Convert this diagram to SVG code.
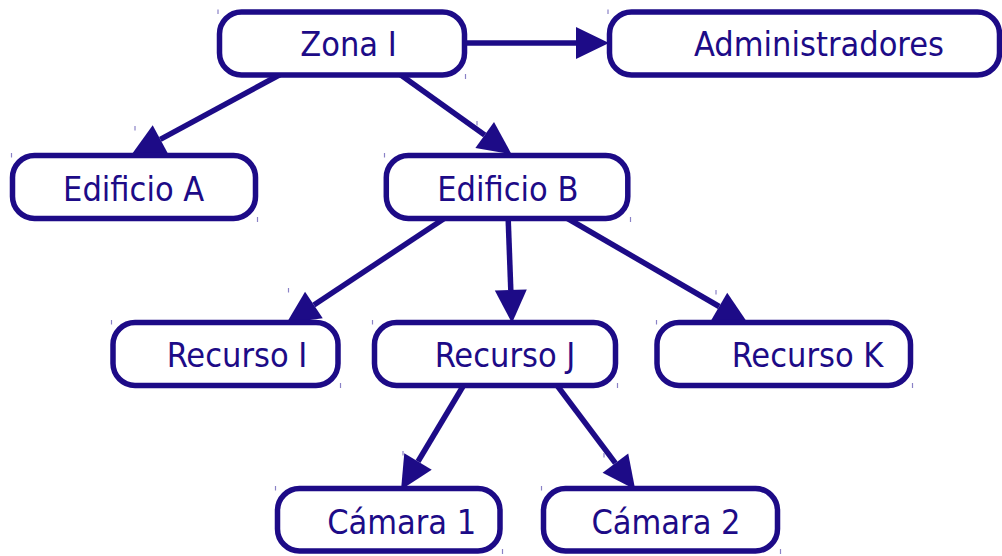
<svg xmlns="http://www.w3.org/2000/svg" width="1002" height="556" viewBox="0 0 1002 556">
  <style>
    .box { fill: #ffffff; stroke: #1d0b87; stroke-width: 5.5; }
    .lbl { font-family: "DejaVu Sans Condensed", "DejaVu Sans", sans-serif; font-stretch: condensed; font-size: 34px; fill: #1d0b87; text-anchor: middle; }
    .edge { stroke: #1d0b87; stroke-width: 5.5; fill: none; marker-end: url(#arrow); }
    .tick { stroke: #8a82c6; stroke-width: 1.2; }
  </style>
  <defs>
    <!-- filled triangle head; the line ends at its base -->
    <marker id="arrow" markerUnits="userSpaceOnUse" markerWidth="34" markerHeight="32" refX="0" refY="16" orient="auto" overflow="visible">
      <path d="M0,0 L33,16 L0,32 z" fill="#1d0b87"/>
    </marker>
  </defs>
  <rect width="1002" height="556" fill="#ffffff"/>

  <!-- connectors -->
  <g id="connectors">
    <line class="edge" x1="460" y1="43" x2="576" y2="43"/>
    <line class="edge" x1="283" y1="73" x2="160.3" y2="139.3"/>
    <line class="edge" x1="398" y1="73" x2="484.7" y2="135"/>
    <line class="edge" x1="448" y1="216" x2="313.9" y2="305"/>
    <line class="edge" x1="508" y1="214" x2="510.8" y2="290"/>
    <line class="edge" x1="565" y1="217" x2="719.2" y2="306.5"/>
    <line class="edge" x1="465" y1="383" x2="418" y2="461.5"/>
    <line class="edge" x1="556" y1="384" x2="615.4" y2="463.2"/>
  </g>

  <g id="zona-i">
    <rect class="box" x="219.5" y="12" width="245" height="63" rx="22"/>
    <text class="lbl" x="348.5" y="56">Zona I</text>
  </g>
  <g id="administradores">
    <rect class="box" x="609.5" y="12" width="390" height="63" rx="22"/>
    <text class="lbl" x="819" y="56">Administradores</text>
  </g>
  <g id="edificio-a">
    <rect class="box" x="12.5" y="155.5" width="243" height="63" rx="22"/>
    <text class="lbl" x="133.7" y="200.5">Edificio A</text>
  </g>
  <g id="edificio-b">
    <rect class="box" x="386.3" y="155.5" width="241.5" height="63" rx="22"/>
    <text class="lbl" x="507.8" y="200.5">Edificio B</text>
  </g>
  <g id="recurso-i">
    <rect class="box" x="113" y="322.5" width="225" height="63" rx="22"/>
    <text class="lbl" x="237" y="366.5">Recurso I</text>
  </g>
  <g id="recurso-j">
    <rect class="box" x="374.5" y="322.5" width="241" height="63" rx="22"/>
    <text class="lbl" x="505" y="366.5">Recurso J</text>
  </g>
  <g id="recurso-k">
    <rect class="box" x="657" y="322.5" width="253.5" height="63" rx="22"/>
    <text class="lbl" x="807.5" y="366.5">Recurso K</text>
  </g>
  <g id="camara-1">
    <rect class="box" x="277.5" y="488.5" width="222.5" height="62.5" rx="22"/>
    <text class="lbl" x="401.7" y="533.5">Cámara 1</text>
  </g>
  <g id="camara-2">
    <rect class="box" x="543.5" y="488.5" width="234" height="62.5" rx="22"/>
    <text class="lbl" x="666" y="533.5">Cámara 2</text>
  </g>

  <!-- small corner ticks at the bounding boxes -->
  <g id="ticks">
    <line class="tick" x1="218" y1="9.5" x2="218" y2="14"/>
    <line class="tick" x1="465.5" y1="74" x2="465.5" y2="79"/>
    <line class="tick" x1="608" y1="9.5" x2="608" y2="14"/>
    <line class="tick" x1="11.5" y1="153" x2="11.5" y2="157.5"/>
    <line class="tick" x1="257.5" y1="217" x2="257.5" y2="222"/>
    <line class="tick" x1="384.5" y1="153" x2="384.5" y2="157.5"/>
    <line class="tick" x1="630.5" y1="217" x2="630.5" y2="222"/>
    <line class="tick" x1="111.5" y1="320" x2="111.5" y2="324.5"/>
    <line class="tick" x1="340.5" y1="383" x2="340.5" y2="388"/>
    <line class="tick" x1="372.5" y1="320" x2="372.5" y2="324.5"/>
    <line class="tick" x1="617.5" y1="383" x2="617.5" y2="388"/>
    <line class="tick" x1="656.5" y1="320" x2="656.5" y2="324.5"/>
    <line class="tick" x1="912.5" y1="383" x2="912.5" y2="388"/>
    <line class="tick" x1="275.5" y1="486" x2="275.5" y2="490.5"/>
    <line class="tick" x1="502.5" y1="549" x2="502.5" y2="554"/>
    <line class="tick" x1="541.5" y1="486" x2="541.5" y2="490.5"/>
    <line class="tick" x1="780.5" y1="549" x2="780.5" y2="554"/>
    <line class="tick" x1="135" y1="126" x2="135" y2="130.5"/>
    <line class="tick" x1="477" y1="121" x2="477" y2="125.5"/>
    <line class="tick" x1="288.5" y1="288" x2="288.5" y2="292.5"/>
    <line class="tick" x1="716" y1="290" x2="716" y2="294.5"/>
    <line class="tick" x1="604" y1="453" x2="604" y2="457.5"/>
    <line class="tick" x1="403" y1="451" x2="403" y2="455.5"/>
  </g>
</svg>
